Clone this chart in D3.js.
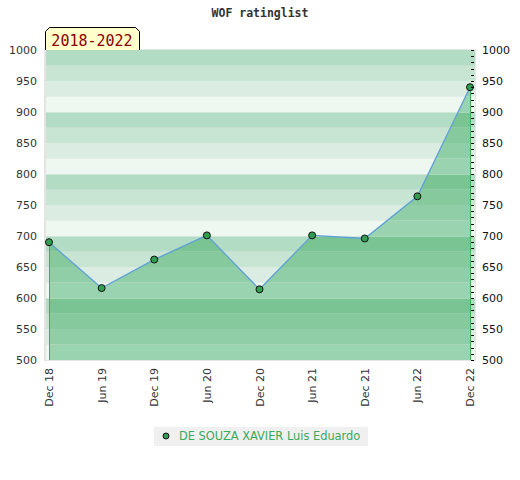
<!DOCTYPE html>
<html><head><meta charset="utf-8">
<script src="https://cdn.jsdelivr.net/npm/d3@7"></script>
<style>body{margin:0;background:#fff}svg{display:block}</style>
</head><body><svg id="c" width="520" height="480"></svg>
<script>
const categories = ["Dec 18","Jun 19","Dec 19","Jun 20","Dec 20","Jun 21","Dec 21","Jun 22","Dec 22"];
const ratings = [690, 616, 662, 701, 614, 701, 696, 764, 940];
const yTicks = [500,550,600,650,700,750,800,850,900,950,1000];
const seriesName = "DE SOUZA XAVIER Luis Eduardo";
const periodLabel = "2018-2022";
const titleText = "WOF ratinglist";

const svg = d3.select("#c");
const L = 45, R = 475, T = 50, B = 360;
const y = d3.scaleLinear().domain([500,1000]).range([B,T]);
const x = d3.scalePoint().domain(categories).range([49,470]);

const bgCols = ["#b3dcc4","#c8e5d4","#dbede2","#eff7f1"];
const arCols = ["#7ac493","#85c99d","#8fcea6","#9ad3b0"];
const bands = d3.range(500,1000,25);
function bandIdx(v){ return (3 - ((v-500)/25)%4 + 4)%4; }

svg.append("rect").attr("x",L-1).attr("y",T-1).attr("width",R-L+2).attr("height",B-T+2).attr("fill","#e4e4e4");
svg.selectAll("rect.bg").data(bands).enter().append("rect")
  .attr("x",L+1).attr("width",R-L-1)
  .attr("y",d=>y(d+25)).attr("height",d=>y(d)-y(d+25))
  .attr("fill",d=>bgCols[bandIdx(d)]);

const area = d3.area().x((d,i)=>x(categories[i])).y0(B).y1(d=>y(d));
const defs = svg.append("defs");
defs.append("clipPath").attr("id","ac").append("path").attr("d",area(ratings));
const ag = svg.append("g").attr("clip-path","url(#ac)");
ag.selectAll("rect").data(bands).enter().append("rect")
  .attr("x",L).attr("width",R-L)
  .attr("y",d=>y(d+25)).attr("height",d=>y(d)-y(d+25))
  .attr("fill",d=>arCols[bandIdx(d)]);

svg.selectAll("line.sep").data([600,700,800,900]).enter().append("line")
  .attr("x1",L+1).attr("x2",R).attr("y1",d=>y(d)+0.5).attr("y2",d=>y(d)+0.5)
  .attr("stroke","#ffffff").attr("stroke-opacity",0.35);

[0, ratings.length-1].forEach(i=>{
  svg.append("line").attr("x1",Math.round(x(categories[i]))+0.5).attr("x2",Math.round(x(categories[i]))+0.5)
    .attr("y1",y(ratings[i])).attr("y2",B).attr("stroke","#3cae5e").attr("stroke-width",1);
});

const line = d3.line().x((d,i)=>x(categories[i])).y(d=>y(d));
svg.append("path").attr("d",line(ratings)).attr("fill","none").attr("stroke","#5fa0d8").attr("stroke-width",1.3);

svg.selectAll("circle.p").data(ratings).enter().append("circle")
  .attr("cx",(d,i)=>x(categories[i])).attr("cy",d=>y(d)).attr("r",3.5)
  .attr("fill","#2f9e50").attr("stroke","#111").attr("stroke-width",1);

svg.selectAll("line.mt").data(d3.range(500,1001,10)).enter().append("line")
  .attr("x1",471).attr("x2",474).attr("y1",d=>Math.round(y(d))+0.5).attr("y2",d=>Math.round(y(d))+0.5)
  .attr("stroke","#000");

svg.selectAll("text.yl").data(yTicks).enter().append("text")
  .attr("x",37).attr("y",d=>y(d)+4).attr("text-anchor","end")
  .attr("font-family","DejaVu Sans").attr("font-size",11).attr("fill","#333").text(d=>d);
svg.selectAll("text.yr").data(yTicks).enter().append("text")
  .attr("x",482).attr("y",d=>y(d)+4).attr("text-anchor","start")
  .attr("font-family","DejaVu Sans").attr("font-size",11).attr("fill","#111").text(d=>d);

svg.selectAll("text.xl").data(categories).enter().append("text")
  .attr("transform",d=>`translate(${x(d)+4},368) rotate(-90)`)
  .attr("text-anchor","end")
  .attr("font-family","DejaVu Sans").attr("font-size",11).attr("fill","#333").text(d=>d);

svg.append("text").attr("x",260).attr("y",17).attr("text-anchor","middle")
  .attr("font-family","DejaVu Sans Mono").attr("font-weight","bold").attr("font-size",11.5)
  .attr("fill","#333").text(titleText);

const bx0=45.5, bx1=139.5, by0=27.5, by1=50, c=4;
svg.append("path").attr("d",`M${bx0},${by1} L${bx0},${by0+c} L${bx0+c},${by0} L${bx1-c},${by0} L${bx1},${by0+c} L${bx1},${by1}`)
  .attr("fill","#ffffcc").attr("stroke","#000").attr("stroke-width",1);
svg.append("text").attr("x",92).attr("y",46).attr("text-anchor","middle")
  .attr("font-family","DejaVu Sans Mono").attr("font-size",15).attr("fill","#8b0000").text(periodLabel);

svg.append("rect").attr("x",154).attr("y",427).attr("width",214).attr("height",19).attr("fill","#f0f0f0");
svg.append("circle").attr("cx",166).attr("cy",436).attr("r",3).attr("fill","#2f9e50").attr("stroke","#111");
svg.append("text").attr("x",179).attr("y",440).attr("font-family","DejaVu Sans").attr("font-size",11.4)
  .attr("fill","#3aaa5c").text(seriesName);
</script></body></html>
